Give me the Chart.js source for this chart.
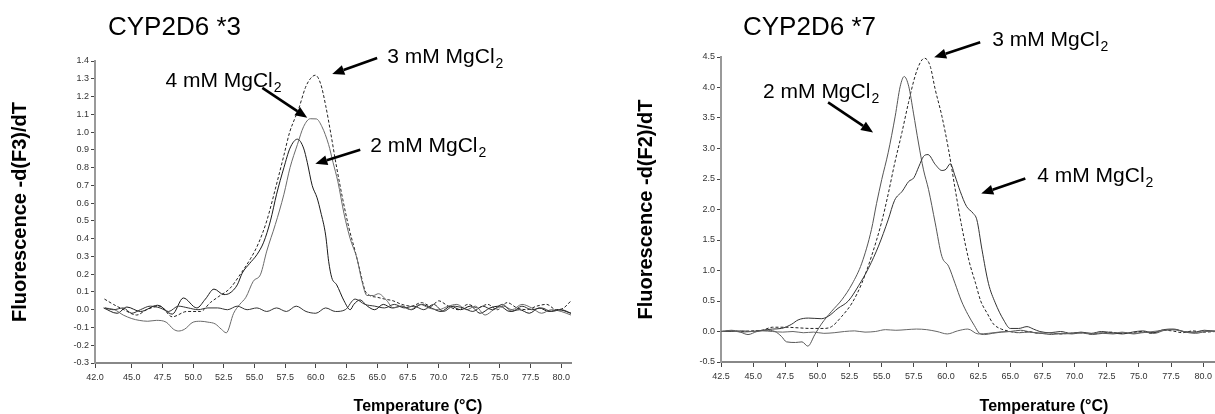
<!DOCTYPE html>
<html>
<head>
<meta charset="utf-8">
<script src="https://cdn.jsdelivr.net/npm/chart.js@4.4.1/dist/chart.umd.min.js"></script>
<style>
  html, body { margin: 0; padding: 0; background: #fff; }
  body { width: 1215px; height: 414px; overflow: hidden; position: relative; }
  #left { position: absolute; left: 0; top: 0; }
  #right { position: absolute; left: 600px; top: 0; }
</style>
</head>
<body>
<canvas id="left" width="600" height="414"></canvas>
<canvas id="right" width="640" height="414"></canvas>
<script>
// ---- CYP2D6 *3 (left) ----
const xTicksL = [42.0, 45.0, 47.5, 50.0, 52.5, 55.0, 57.5, 60.0, 62.5, 65.0, 67.5, 70.0, 72.5, 75.0, 77.5, 80.0];
const yTicksL = [-0.3, -0.2, -0.1, 0.0, 0.1, 0.2, 0.3, 0.4, 0.5, 0.6, 0.7, 0.8, 0.9, 1.0, 1.1, 1.2, 1.3, 1.4];

const tL_2mM = [42.7, 43.8, 44.6, 45.7, 47.1, 48.3, 49.2, 50.3, 51.0, 51.7, 52.5, 53.0, 53.6, 54.0, 54.6, 55.2, 55.75, 56.3, 56.8, 57.4, 57.9, 58.5, 59.0, 59.3, 59.7, 60.1, 60.4, 60.8, 61.05, 61.3, 61.7, 62.3, 62.8, 63.1, 63.6, 64.2, 64.8, 65.5, 66.2, 67.0, 67.8, 68.6, 69.4, 70.2, 71.0, 71.8, 72.6, 73.4, 74.2, 75.0, 75.8, 76.6, 77.4, 78.2, 79.0, 79.8, 80.8];
const vL_2mM = [0.01, -0.02, 0.015, -0.01, 0.025, -0.025, 0.066, 0.01, 0.06, 0.116, 0.085, 0.094, 0.14, 0.206, 0.26, 0.31, 0.38, 0.5, 0.65, 0.8, 0.91, 0.96, 0.91, 0.83, 0.70, 0.63, 0.55, 0.42, 0.27, 0.18, 0.14, 0.05, 0.0, 0.03, 0.055, 0.02, 0.0, 0.03, 0.01, 0.02, 0.0, 0.03, 0.01, -0.01, 0.02, 0.0, 0.02, -0.02, 0.01, 0.02, -0.01, 0.0, -0.02, 0.01, -0.01, 0.0, -0.02];

const tL_3mM = [42.77, 43.5, 44.35, 45.4, 46.2, 47.3, 48.3, 49.5, 50.6, 51.4, 52.1, 53.0, 53.85, 54.7, 55.3, 56.0, 56.7, 57.4, 57.87, 58.25, 58.6, 59.15, 59.55, 59.96, 60.4, 60.8, 61.2, 61.7, 62.2, 62.7, 63.2, 63.6, 64.0, 64.4, 65.0, 65.6, 66.3, 67.0, 67.8, 68.6, 69.4, 70.0, 70.8, 71.6, 72.4, 73.2, 74.0, 74.8, 75.6, 76.4, 77.2, 78.0, 78.8, 79.6, 80.2, 80.8];
const vL_3mM = [0.06, 0.03, 0.0, -0.03, 0.0, 0.02, -0.04, -0.01, -0.01, 0.04, 0.075, 0.12, 0.2, 0.29, 0.37, 0.5, 0.68, 0.87, 1.0, 1.07, 1.13, 1.25, 1.30, 1.32, 1.27, 1.15, 1.0, 0.8, 0.62, 0.46, 0.33, 0.22, 0.11, 0.08, 0.07, 0.06, 0.05, 0.03, 0.02, 0.04, 0.02, 0.05, 0.02, 0.0, 0.03, 0.01, 0.03, 0.0, 0.04, 0.01, 0.0, 0.02, 0.03, 0.0, 0.01, 0.05];

const tL_4mM = [42.8, 43.6, 44.3, 45.0, 45.6, 46.3, 47.0, 47.8, 48.4, 48.8, 49.3, 50.0, 50.6, 51.2, 51.8, 52.3, 52.7, 53.3, 53.8, 54.3, 54.9, 55.5, 56.0, 56.7, 57.4, 57.9, 58.5, 59.0, 59.55, 60.04, 60.5, 61.04, 61.4, 61.8, 62.3, 62.8, 63.35, 63.76, 64.17, 64.7, 65.1, 65.8, 66.3, 67.0, 67.7, 68.5, 69.2, 70.0, 70.8, 71.5, 72.3, 73.0, 73.8, 74.5, 75.3, 76.0, 76.8, 77.6, 78.4, 79.2, 80.0, 80.8];
const vL_4mM = [0.01, 0.0, -0.03, -0.05, -0.06, -0.065, -0.06, -0.07, -0.11, -0.12, -0.11, -0.07, -0.065, -0.07, -0.08, -0.11, -0.13, -0.02, 0.03, 0.07, 0.16, 0.2, 0.33, 0.48, 0.65, 0.8, 0.93, 1.03, 1.075, 1.074, 1.03, 0.93, 0.83, 0.72, 0.54, 0.4, 0.29, 0.16, 0.08, 0.08, 0.09, 0.05, 0.01, 0.02, 0.0, 0.03, 0.01, 0.0, 0.02, 0.03, 0.0, 0.02, -0.03, 0.0, 0.02, 0.0, 0.03, 0.01, -0.02, 0.0, -0.01, -0.03];

const tL_ntc = [42.8, 43.5, 44.3, 45.0, 45.7, 46.5, 47.3, 48.0, 48.8, 49.6, 50.4, 51.2, 52.0, 52.8, 53.6, 54.4, 55.2, 56.0, 56.8, 57.6, 58.4, 59.2, 60.0, 60.8, 61.6, 62.4, 63.2, 64.0, 64.8, 65.6, 66.4, 67.2, 68.0, 68.8, 69.6, 70.4, 71.2, 72.0, 72.8, 73.6, 74.4, 75.2, 76.0, 76.8, 77.6, 78.4, 79.2, 80.0, 80.8];
const vL_ntc = [0.01, 0.0, 0.01, -0.02, 0.0, 0.02, 0.01, -0.01, 0.02, 0.01, 0.0, 0.01, 0.01, 0.0, 0.02, 0.0, 0.01, -0.01, 0.01, -0.01, 0.02, -0.01, -0.02, 0.01, -0.01, 0.0, 0.06, 0.03, 0.02, 0.01, 0.03, 0.01, 0.02, 0.0, 0.03, -0.01, 0.02, 0.01, -0.01, 0.02, 0.0, 0.03, -0.01, 0.02, 0.0, 0.01, -0.01, 0.0, -0.02];

// ---- CYP2D6 *7 (right) ----
const xTicksR = [42.5, 45.0, 47.5, 50.0, 52.5, 55.0, 57.5, 60.0, 62.5, 65.0, 67.5, 70.0, 72.5, 75.0, 77.5, 80.0];
const yTicksR = [-0.5, 0.0, 0.5, 1.0, 1.5, 2.0, 2.5, 3.0, 3.5, 4.0, 4.5];

const tR_2mM = [42.5, 43.3, 44.0, 44.6, 45.3, 46.0, 46.7, 47.2, 47.6, 48.3, 48.8, 49.25, 49.8, 50.3, 51.1, 51.9, 52.7, 53.45, 54.2, 54.6, 55.0, 55.5, 56.05, 56.44, 56.75, 57.1, 57.47, 57.86, 58.25, 58.64, 59.16, 59.68, 60.2, 60.7, 61.2, 61.7, 62.2, 62.6, 63.0, 63.6, 64.3, 65.0, 65.8, 66.6, 67.4, 68.2, 69.0, 69.8, 70.6, 71.4, 72.2, 73.0, 73.8, 74.6, 75.4, 76.2, 77.0, 77.8, 78.6, 79.4, 80.2, 81.0];
const vR_2mM = [0.0, 0.02, -0.01, -0.05, 0.0, 0.02, 0.0, -0.08, -0.17, -0.18, -0.17, -0.24, -0.05, 0.12, 0.33, 0.52, 0.78, 1.12, 1.67, 2.1, 2.49, 2.93, 3.53, 4.02, 4.18, 4.02, 3.58, 3.09, 2.65, 2.33, 1.78, 1.23, 1.07, 0.79, 0.5, 0.28, 0.1, -0.03, -0.05, -0.03, -0.01, 0.0, 0.02, -0.01, -0.03, -0.05, -0.03, -0.04, -0.02, -0.05, -0.03, -0.04, -0.02, -0.04, -0.01, -0.03, 0.02, 0.03, -0.01, -0.03, 0.0, 0.01];

const tR_3mM = [42.5, 43.3, 44.1, 44.9, 45.7, 46.5, 47.5, 48.5, 49.5, 50.5, 51.1, 51.9, 52.7, 53.45, 54.2, 55.0, 55.5, 56.0, 56.57, 57.08, 57.6, 58.0, 58.33, 58.77, 59.16, 59.68, 60.2, 60.7, 61.2, 61.8, 62.3, 62.7, 63.2, 63.7, 64.3, 64.8, 65.6, 66.4, 67.2, 68.0, 68.8, 69.6, 70.4, 71.2, 72.0, 72.8, 73.6, 74.4, 75.2, 76.0, 76.8, 77.6, 78.4, 79.2, 80.0, 81.0];
const vR_3mM = [0.0, 0.01, 0.0, 0.01, 0.02, 0.07, 0.07, 0.06, 0.05, 0.05, 0.08, 0.25, 0.47, 0.79, 1.23, 1.8, 2.25, 2.75, 3.26, 3.75, 4.19, 4.41, 4.48, 4.35, 3.97, 3.53, 2.98, 2.35, 1.75, 1.15, 0.79, 0.5, 0.3, 0.12, 0.04, 0.01, -0.02, 0.0, -0.03, -0.02, -0.04, -0.03, -0.02, -0.04, -0.03, -0.01, -0.03, -0.02, 0.0, -0.03, 0.02, 0.01, -0.02, 0.01, -0.01, 0.0];

const tR_4mM = [42.5, 43.3, 44.1, 44.9, 45.7, 46.5, 47.2, 48.0, 48.5, 49.3, 50.3, 50.85, 51.6, 52.4, 53.2, 54.0, 54.75, 55.5, 56.0, 56.6, 57.1, 57.5, 57.9, 58.25, 58.6, 59.16, 59.68, 60.0, 60.33, 60.7, 61.1, 61.6, 62.1, 62.4, 62.8, 63.3, 63.83, 64.48, 65.0, 65.65, 66.3, 66.8, 67.3, 68.1, 68.9, 69.7, 70.5, 71.3, 72.1, 72.9, 73.7, 74.5, 75.3, 76.1, 76.9, 77.7, 78.5, 79.3, 80.1, 81.0];
const vR_4mM = [0.0, 0.0, 0.01, 0.0, 0.02, 0.04, 0.05, 0.12, 0.19, 0.22, 0.21, 0.25, 0.38, 0.5, 0.75, 1.05, 1.4, 1.83, 2.15, 2.3, 2.46, 2.52, 2.71, 2.87, 2.9, 2.74, 2.64, 2.66, 2.75, 2.55, 2.3, 2.05, 1.94, 1.83, 1.34, 0.79, 0.47, 0.19, 0.05, 0.05, 0.08, 0.04, 0.0, -0.02, 0.0, -0.03, -0.01, -0.03, 0.0, -0.02, -0.04, -0.01, 0.01, -0.02, 0.03, 0.04, 0.0, -0.01, 0.02, 0.0];

const tR_ntc = [42.5, 43.3, 44.1, 44.9, 45.7, 46.5, 47.3, 48.1, 48.9, 49.7, 50.5, 51.3, 52.1, 52.9, 53.7, 54.5, 55.3, 56.1, 56.9, 57.7, 58.5, 59.3, 60.1, 60.9, 61.7, 62.5, 63.3, 64.1, 64.9, 65.7, 66.5, 67.3, 68.1, 68.9, 69.7, 70.5, 71.3, 72.1, 72.9, 73.7, 74.5, 75.3, 76.1, 76.9, 77.7, 78.5, 79.3, 80.1, 81.0];
const vR_ntc = [0.0, 0.01, -0.01, 0.0, 0.01, 0.0, -0.01, 0.0, -0.02, -0.01, -0.03, -0.02, 0.0, 0.01, -0.01, 0.0, 0.03, 0.02, 0.03, 0.04, 0.03, 0.0, -0.04, 0.01, 0.04, -0.04, -0.03, -0.01, 0.0, -0.02, -0.01, -0.03, -0.02, -0.04, -0.03, -0.02, -0.04, -0.02, -0.03, -0.01, -0.03, -0.02, 0.0, 0.02, 0.03, 0.0, -0.02, 0.01, 0.0];

const FONT = "'Liberation Sans', Arial, sans-serif";

function pts(t, v) {
    return t.map((x, i) => ({ x: x, y: v[i] }));
}

function series(t, v, color, dashed) {
    return {
        data: pts(t, v),
        borderColor: color,
        borderWidth: 1,
        borderDash: dashed ? [3, 2] : [],
        pointRadius: 0,
        fill: false,
        cubicInterpolationMode: 'monotone'
    };
}

// label with subscript 2 plus an arrow to the curve (data coords)
function drawNote(chart, n) {
    const ctx = chart.ctx;
    const xs = chart.scales.x, ys = chart.scales.y;
    const tx = xs.getPixelForValue(n.text[0]), ty = ys.getPixelForValue(n.text[1]);
    ctx.fillStyle = '#000';
    ctx.textAlign = 'left';
    ctx.textBaseline = 'alphabetic';
    ctx.font = '21px ' + FONT;
    ctx.fillText(n.label, tx, ty);
    const w = ctx.measureText(n.label).width;
    ctx.font = '14px ' + FONT;
    ctx.fillText('2', tx + w + 1, ty + 5);

    const x1 = xs.getPixelForValue(n.from[0]), y1 = ys.getPixelForValue(n.from[1]);
    const x2 = xs.getPixelForValue(n.to[0]), y2 = ys.getPixelForValue(n.to[1]);
    const a = Math.atan2(y2 - y1, x2 - x1);
    const head = 12, half = 5;
    const bx = x2 - head * Math.cos(a), by = y2 - head * Math.sin(a);
    ctx.strokeStyle = '#000';
    ctx.lineWidth = 2.6;
    ctx.beginPath();
    ctx.moveTo(x1, y1);
    ctx.lineTo(bx, by);
    ctx.stroke();
    ctx.beginPath();
    ctx.moveTo(x2, y2);
    ctx.lineTo(bx + half * Math.sin(a), by - half * Math.cos(a));
    ctx.lineTo(bx - half * Math.sin(a), by + half * Math.cos(a));
    ctx.closePath();
    ctx.fill();
}

const notesPlugin = {
    id: 'notes',
    afterDraw(chart, args, opts) {
        const ctx = chart.ctx;
        ctx.save();
        ctx.fillStyle = '#000';
        ctx.font = '26px ' + FONT;
        ctx.textAlign = 'left';
        ctx.textBaseline = 'alphabetic';
        ctx.fillText(opts.title, opts.titleX, 35);
        ctx.font = 'bold 16px ' + FONT;
        ctx.textAlign = 'center';
        ctx.fillText('Temperature (\u00B0C)', opts.xTitleX, 411);
        opts.notes.forEach(n => drawNote(chart, n));
        ctx.restore();
    }
};

function makeChart(id, o) {
    return new Chart(document.getElementById(id), {
        type: 'line',
        data: { datasets: o.datasets },
        plugins: [notesPlugin],
        options: {
            responsive: false,
            animation: false,
            devicePixelRatio: 1,
            layout: { padding: o.padding },
            plugins: {
                legend: { display: false },
                tooltip: { enabled: false },
                notes: o.notes
            },
            scales: {
                x: {
                    type: 'linear',
                    min: o.xMin, max: o.xMax,
                    afterBuildTicks: s => { s.ticks = o.xTicks.map(v => ({ value: v })); },
                    afterFit: s => { s.height = o.xHeight; },
                    ticks: {
                        autoSkip: false, maxRotation: 0, padding: 4,
                        color: '#333', font: { family: FONT, size: 9 },
                        callback: v => v.toFixed(1)
                    },
                    grid: { drawOnChartArea: false, drawTicks: true, tickLength: 5, color: '#444' },
                    border: { color: '#888', width: 2 }
                },
                y: {
                    min: o.yMin, max: o.yMax,
                    afterBuildTicks: s => { s.ticks = o.yTicks.map(v => ({ value: v })); },
                    afterFit: s => { s.width = o.yWidth; },
                    ticks: {
                        padding: 2,
                        color: '#333', font: { family: FONT, size: 9 },
                        callback: v => v.toFixed(1)
                    },
                    grid: { drawOnChartArea: false, drawTicks: true, tickLength: 4, color: '#444' },
                    border: { color: '#999', width: 2 },
                    title: {
                        display: true, text: o.yTitle, color: '#000',
                        font: { family: FONT, size: 20, weight: 'bold' },
                        padding: { top: o.yTitlePad, bottom: 0 }
                    }
                }
            }
        }
    });
}

makeChart('left', {
    datasets: [
        series(tL_ntc, vL_ntc, '#333', false),
        series(tL_4mM, vL_4mM, '#6a6a6a', false),
        series(tL_2mM, vL_2mM, '#1a1a1a', false),
        series(tL_3mM, vL_3mM, '#222', true)
    ],
    padding: { left: 0, top: 61, right: 29, bottom: 0 },
    xMin: 42.0, xMax: 80.8, xTicks: xTicksL, xHeight: 51,
    yMin: -0.3, yMax: 1.4, yTicks: yTicksL, yWidth: 95,
    yTitle: 'Fluorescence -d(F3)/dT', yTitlePad: 8,
    notes: {
        title: 'CYP2D6 *3', titleX: 108, xTitleX: 418,
        notes: [
            { label: '3 mM MgCl', text: [65.82, 1.389], from: [65.0, 1.417], to: [61.34, 1.327] },
            { label: '4 mM MgCl', text: [47.74, 1.254], from: [55.64, 1.249], to: [59.30, 1.080] },
            { label: '2 mM MgCl', text: [64.43, 0.889], from: [63.62, 0.90], to: [59.96, 0.821] }
        ]
    }
});

makeChart('right', {
    datasets: [
        series(tR_ntc, vR_ntc, '#666', false),
        series(tR_4mM, vR_4mM, '#333', false),
        series(tR_2mM, vR_2mM, '#555', false),
        series(tR_3mM, vR_3mM, '#222', true)
    ],
    padding: { left: 0, top: 57, right: 24, bottom: 0 },
    xMin: 42.5, xMax: 81.0, xTicks: xTicksR, xHeight: 52,
    yMin: -0.5, yMax: 4.5, yTicks: yTicksR, yWidth: 121,
    yTitle: 'Fluorescence -d(F2)/dT', yTitlePad: 34,
    notes: {
        title: 'CYP2D6 *7', titleX: 143, xTitleX: 444,
        notes: [
            { label: '3 mM MgCl', text: [63.6, 4.675], from: [62.66, 4.74], to: [59.08, 4.494] },
            { label: '2 mM MgCl', text: [45.77, 3.836], from: [50.83, 3.755], to: [54.33, 3.263] },
            { label: '4 mM MgCl', text: [67.1, 2.455], from: [66.17, 2.507], to: [62.74, 2.261] }
        ]
    }
});
</script>
</body>
</html>
